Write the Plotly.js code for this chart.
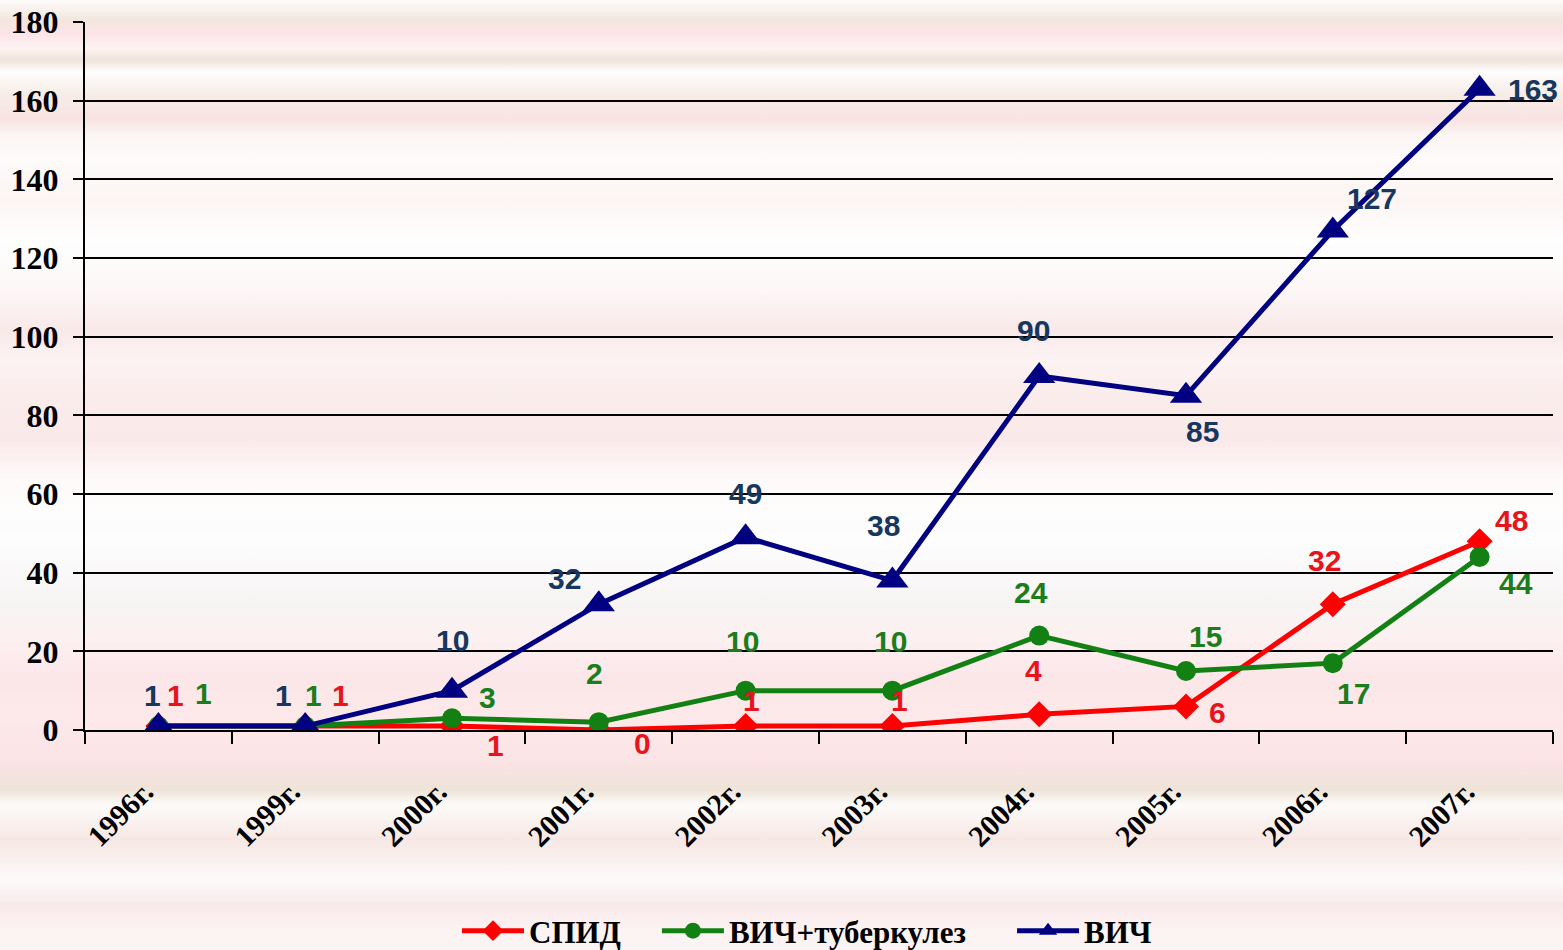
<!DOCTYPE html>
<html>
<head>
<meta charset="utf-8">
<script src="https://cdn.plot.ly/plotly-3.0.1.min.js"></script>
<style>
html,body{margin:0;padding:0;}
body{
  width:1563px;height:950px;overflow:hidden;
  background:linear-gradient(180deg,
    #fdfbfa 0px,#f3e6de 20px,#fde4e8 35px,#fdf4f2 48px,#efe3da 60px,#fefcfc 72px,
    #f6ece6 95px,#f8e3e3 120px,#fbf6f4 135px,#fdfafa 160px,#fcf5f3 200px,#fefefe 240px,
    #fdf7f7 290px,#f9e9e9 330px,#fdf3f3 360px,#f9ecea 400px,#fbe9ea 440px,#fefafa 480px,
    #fdfdfd 540px,#f7f4f4 600px,#fdf0f0 640px,#fbe6e8 680px,#fde9ea 720px,#fbe3e6 760px,
    #eee4d8 790px,#fdfbfa 805px,#f6e7e4 840px,#fcfafa 880px,#f8e9e9 905px,#fdf3f3 930px,#fbf4f4 950px);
}
#chart{width:1563px;height:950px;}
</style>
</head>
<body>
<div id="chart"></div>
<script>
// ---- data ----
const years = ["1996г.","1999г.","2000г.","2001г.","2002г.","2003г.","2004г.","2005г.","2006г.","2007г."];
const aids = [1,1,1,0,1,1,4,6,32,48];          // СПИД
const hivTb = [1,1,3,2,10,10,24,15,17,44];     // ВИЧ+туберкулез
const hiv = [1,1,10,32,49,38,90,85,127,163];   // ВИЧ
const seriesNames = ["СПИД","ВИЧ+туберкулез","ВИЧ"];

// ---- label offsets (pixels) ----
const aidsDx = [17,35,43,44,6,7,-6,31,-8,32];
const aidsDy = [-31,-31,19,13,-26,-26,-44,6,-44,-21];
const tbDx = [45,8,35,-4,-3,-2,-8,19,21,36];
const tbDy = [-33,-31,-21,-49,-49,-49,-43,-35,30,27];
const hivDx = [-6,-22,0,-34,0,-9,-6,16,39,53];
const hivDy = [-31,-31,-50,-26,-44,-55,-46,36,-32,1];

const lineColors = ["#ff0000","#138013","#000080"];
const labelColors = ["#e8141c","#1b7d1b","#17375e"];

const traces = [
  {x:years,y:aids,name:seriesNames[0],mode:"lines+markers",legend:"legend",
   line:{color:lineColors[0],width:5},marker:{symbol:"diamond",size:20,color:lineColors[0]}},
  {x:years,y:hivTb,name:seriesNames[1],mode:"lines+markers",legend:"legend2",
   line:{color:lineColors[1],width:5},marker:{symbol:"circle",size:20,color:lineColors[1]}},
  {x:years,y:hiv,name:seriesNames[2],mode:"lines+markers",legend:"legend3",
   line:{color:lineColors[2],width:5},marker:{symbol:"triangle-up",size:28,color:lineColors[2]}}
];

const annotations = [];
function addLabels(vals, dx, dy, color){
  vals.forEach((v,i)=>{
    annotations.push({x:years[i],y:v,xref:"x",yref:"y",text:String(v),showarrow:false,
      xshift:dx[i],yshift:-dy[i],
      font:{family:"Liberation Sans, Arial, sans-serif",size:30,color:color,weight:"bold"}});
  });
}
addLabels(aids,aidsDx,aidsDy,labelColors[0]);
addLabels(hivTb,tbDx,tbDy,labelColors[1]);
addLabels(hiv,hivDx,hivDy,labelColors[2]);

const serif = "Liberation Serif, Times New Roman, serif";
function legendAt(x){
  return {orientation:"h",x:x,xanchor:"left",yref:"container",y:0.02,yanchor:"middle",
    font:{family:serif,size:31,color:"#000",weight:"bold"},itemwidth:62,
    bgcolor:"rgba(0,0,0,0)"};
}
const layout = {
  width:1563,height:950,
  margin:{l:85,r:10,t:22,b:220},
  paper_bgcolor:"rgba(0,0,0,0)",
  plot_bgcolor:"rgba(0,0,0,0)",
  showlegend:true,
  legend:legendAt(0.2534),
  legend2:legendAt(0.3896),
  legend3:legendAt(0.6315),
  xaxis:{type:"category",tickson:"boundaries",ticks:"outside",ticklen:12,tickwidth:2,tickcolor:"#000",
    showline:true,linecolor:"#000",linewidth:2,showgrid:false,tickangle:-45,automargin:false,
    ticklabelstandoff:30,ticklabelshift:-14,
    tickfont:{family:serif,size:30,color:"#000",weight:"bold"},range:[-0.5,9.5]},
  yaxis:{range:[0,180],dtick:20,ticks:"outside",ticklen:10,tickwidth:2,tickcolor:"#000",
    showline:true,linecolor:"#000",linewidth:2,showgrid:true,gridcolor:"#000",gridwidth:2,
    zeroline:false,automargin:false,ticklabelstandoff:8,
    tickfont:{family:serif,size:32,color:"#000",weight:"bold"}},
  annotations:annotations
};
Plotly.newPlot("chart",traces,layout,{displayModeBar:false,staticPlot:true});
</script>
</body>
</html>
